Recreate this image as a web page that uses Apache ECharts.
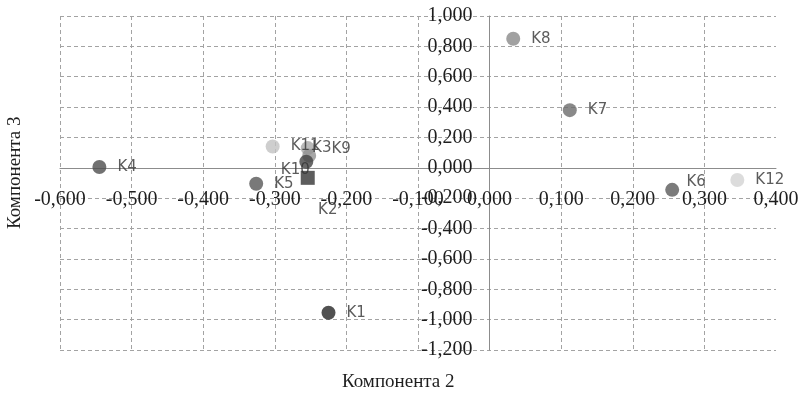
<!DOCTYPE html>
<html>
<head>
<meta charset="utf-8">
<script src="https://cdn.jsdelivr.net/npm/echarts@6/dist/echarts.min.js"></script>
<style>
  html, body { margin: 0; padding: 0; background: #fff; }
  #chart { width: 803px; height: 398px; }
</style>
</head>
<body>
<div id="chart"></div>
<script>
// Cluster centroids on components 2 and 3
const names = ['K1', 'K3', 'K4', 'K5', 'K6', 'K7', 'K8', 'K9', 'K10', 'K11', 'K12', 'K2'];
const comp2 = [-0.225, -0.254, -0.545, -0.326, 0.255, 0.112, 0.033, -0.252, -0.256, -0.303, 0.346, -0.254];
const comp3 = [-0.955, 0.130, 0.005, -0.105, -0.145, 0.380, 0.850, 0.080, 0.040, 0.140, -0.080, -0.066];

const xTitle = 'Компонента 2';
const yTitle = 'Компонента 3';

// marker colours / shapes
const markStyle = {
  K1: { color: '#262626' }, K2: { color: '#353535', symbol: 'rect' },
  K3: { color: '#a8a8a8' }, K4: { color: '#4d4d4d' }, K5: { color: '#575757' },
  K6: { color: '#5a5a5a' }, K7: { color: '#6c6c6c' }, K8: { color: '#8a8a8a' },
  K9: { color: '#919191' }, K10: { color: '#424242' }, K11: { color: '#c2c2c2' },
  K12: { color: '#d3d3d3' }
};
// labels that sit away from the default right-hand spot (offset from marker centre)
const labelShift = {
  K2: [20, 32], K3: [14, 0], K9: [32, -7], K10: [-11, 8], K6: [24, -8]
};

const fmt = v => (Math.abs(v) < 1e-9 ? '0,000' : v.toFixed(3).replace('.', ','));
const serif = 'Liberation Serif';

const xMin = -0.6, xMax = 0.4, yMin = -1.2, yMax = 1.0;
const gridBox = { left: 60, right: 27, top: 16, bottom: 48 };
const plotW = 803 - gridBox.left - gridBox.right;
const plotH = 398 - gridBox.top - gridBox.bottom;
// shift each axis from the grid edge onto the zero line of the other axis
const xAxisShift = -plotH * (0 - yMin) / (yMax - yMin);
const yAxisShift = -plotW * (0 - xMin) / (xMax - xMin);

const data = names.map((n, i) => {
  const st = markStyle[n];
  const item = {
    name: n,
    value: [comp2[i], comp3[i]],
    symbol: st.symbol || 'circle',
    itemStyle: { color: st.color }
  };
  if (labelShift[n]) {
    item.label = { position: 'inside', offset: labelShift[n] };
  }
  return item;
});

const chart = echarts.init(document.getElementById('chart'));
chart.setOption({
  animation: false,
  backgroundColor: '#fff',
  grid: Object.assign({ containLabel: false }, gridBox),
  xAxis: {
    type: 'value', min: xMin, max: xMax, interval: 0.1,
    position: 'bottom', offset: xAxisShift,
    axisLine: { onZero: false, lineStyle: { color: '#8c8c8c', width: 1 } },
    axisTick: { show: false },
    axisLabel: { formatter: fmt, fontFamily: serif, fontSize: 20, color: '#1e1e1e', margin: 22, showMinLabel: true, showMaxLabel: true },
    splitLine: { show: true, showMaxLine: false, lineStyle: { color: '#a3a3a3', type: [4, 3], width: 1 } }
  },
  yAxis: {
    type: 'value', min: yMin, max: yMax, interval: 0.2,
    position: 'left', offset: yAxisShift,
    axisLine: { onZero: false, lineStyle: { color: '#8c8c8c', width: 1 } },
    axisTick: { show: false },
    axisLabel: { formatter: fmt, fontFamily: serif, fontSize: 20, color: '#1e1e1e', margin: 17, showMinLabel: true, showMaxLabel: true },
    splitLine: { show: true, lineStyle: { color: '#a3a3a3', type: [4, 3], width: 1 } }
  },
  graphic: [
    { type: 'text', left: 342, top: 373, style: { text: xTitle, font: '19px "' + serif + '"', fill: '#1e1e1e' } },
    { type: 'text', x: 6, y: 229, rotation: Math.PI / 2,
      style: { text: yTitle, font: '19px "' + serif + '"', fill: '#1e1e1e' } }
  ],
  series: [{
    type: 'scatter',
    symbolSize: 14,
    data: data,
    label: {
      show: true, position: 'right', distance: 11,
      formatter: p => p.name,
      fontFamily: 'DejaVu Sans', fontSize: 15, color: '#333'
    },
    emphasis: { disabled: true }
  }]
});
</script>
</body>
</html>
